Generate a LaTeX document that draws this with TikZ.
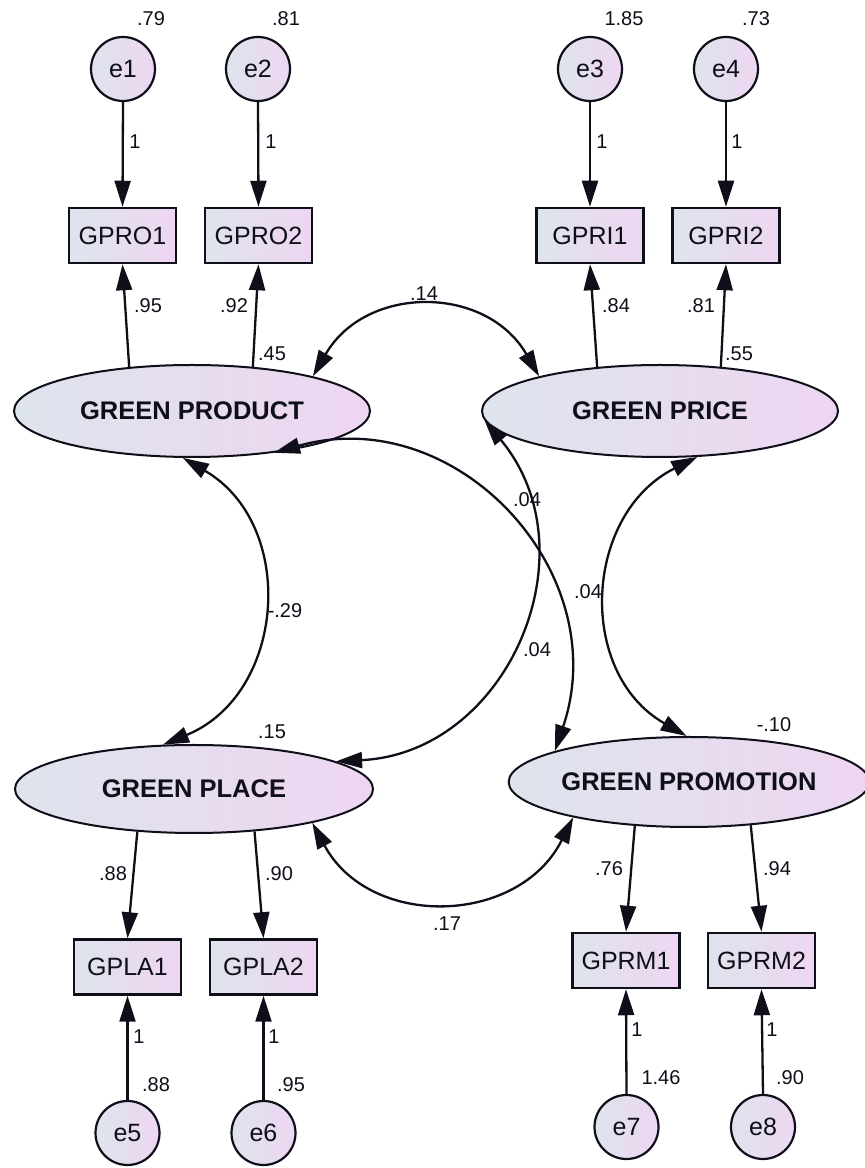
\documentclass[tikz,border=0pt]{standalone}
\usepackage{fontspec}
\setmainfont{Liberation Sans}
\usetikzlibrary{shapes.geometric,arrows.meta}
\definecolor{cL}{RGB}{222,228,236}
\definecolor{cR}{RGB}{238,214,242}
\definecolor{txt}{RGB}{15,15,25}
\begin{document}
\begin{tikzpicture}[x=1pt,y=1pt,
  lat/.style={ellipse, draw=txt, line width=2pt, left color=cL, right color=cR, minimum width=356pt, minimum height=92pt, inner sep=0pt, text=txt, font=\fontsize{25.5}{30}\selectfont\bfseries},
  obs/.style={rectangle, draw=txt, line width=2.5pt, left color=cL, right color=cR, minimum width=107pt, minimum height=55pt, inner sep=0pt, text=txt, font=\fontsize{25}{30}\selectfont},
  err/.style={circle, draw=txt, line width=2.2pt, left color=cL, right color=cR, minimum size=64pt, inner sep=0pt, text=txt, font=\fontsize{25}{30}\selectfont},
  lbl/.style={font=\fontsize{20}{24}\selectfont, inner sep=0pt, text=txt},
  arr/.style={draw=txt, line width=2.3pt, -{Triangle[length=26pt,width=16pt]}},
  cov/.style={draw=txt, line width=2.3pt, {Triangle[length=26pt,width=16pt]}-{Triangle[length=26pt,width=16pt]}},
]
\fill[white] (0,0) rectangle (865,1168);
\useasboundingbox (0,0) rectangle (865,1168);

% error terms (top)
\node[err] (e1) at (123,1099) {e1};
\node[err] (e2) at (258,1099) {e2};
\node[err] (e3) at (590,1099) {e3};
\node[err] (e4) at (726,1099) {e4};
% indicators (top)
\node[obs] (gpro1) at (122.5,932.5) {GPRO1};
\node[obs] (gpro2) at (258.5,932.5) {GPRO2};
\node[obs] (gpri1) at (590,932.5) {GPRI1};
\node[obs] (gpri2) at (726,932.5) {GPRI2};
% latent variables
\node[lat] (prod) at (192,757) {GREEN PRODUCT};
\node[lat] (price) at (660,757) {GREEN PRICE};
\node[lat, minimum width=358pt, minimum height=88pt] (place) at (194,379) {GREEN PLACE};
\node[lat, minimum width=352pt, minimum height=90pt] (promo) at (689,386) {GREEN PROMOTION};
% indicators (bottom)
\node[obs] (gpla1) at (127.5,201) {GPLA1};
\node[obs] (gpla2) at (263.5,201) {GPLA2};
\node[obs] (gprm1) at (626,207.5) {GPRM1};
\node[obs] (gprm2) at (761.5,207.5) {GPRM2};
% error terms (bottom)
\node[err] (e5) at (127.5,35) {e5};
\node[err] (e6) at (263.5,35) {e6};
\node[err] (e7) at (626.5,41) {e7};
\node[err] (e8) at (763,41) {e8};

% error arrows
\draw[arr] (e1.south) -- (gpro1.north);
\draw[arr] (e2.south) -- (gpro2.north);
\draw[arr] (e3.south) -- (gpri1.north);
\draw[arr] (e4.south) -- (gpri2.north);
\draw[arr] (e5.north) -- (gpla1.south);
\draw[arr] (e6.north) -- (gpla2.south);
\draw[arr] (e7.north) -- (gprm1.south);
\draw[arr] (e8.north) -- (gprm2.south);

% loadings
\draw[arr] (prod.145) -- (gpro1.south);
\draw[arr] (prod.36) -- (gpro2.south);
\draw[arr] (price.145) -- (gpri1.south);
\draw[arr] (price.36) -- (gpri2.south);
\draw[arr] (place.217) -- (gpla1.north);
\draw[arr] (place.325) -- (gpla2.north);
\draw[arr] (promo.219) -- (gprm1.north);
\draw[arr] (promo.325) -- (gprm2.north);

% covariances
\draw[cov] (prod.16) .. controls +(60:106pt) and +(120:106pt) .. (price.164);
\draw[cov] (prod.259) .. controls +(-30.2:133pt) and +(22.3:133pt) .. (place.125);
\draw[cov] (prod.333) .. controls +(15.8:189pt) and +(71.3:189pt) .. (promo.167.5);
\draw[cov] (price.183) .. controls +(-50.3:171.7pt) and +(2.8:171.7pt) .. (place.11);
\draw[cov] (price.309) .. controls +(206.7:127.3pt) and +(150.3:127.3pt) .. (promo.93);
\draw[cov] (place.344) .. controls +(-61.6:121.2pt) and +(243.3:121.2pt) .. (promo.197.5);

% labels
\node[lbl] (v1) at (151,1149) {.79};
\node[lbl] (v2) at (286,1149) {.81};
\node[lbl] (v3) at (624,1149) {1.85};
\node[lbl] (v4) at (756,1149) {.73};
\node[lbl] (f1) at (135,1026) {1};
\node[lbl] (f2) at (271,1026) {1};
\node[lbl] (f3) at (602,1026) {1};
\node[lbl] (f4) at (737,1026) {1};
\node[lbl] (l1) at (148,862) {.95};
\node[lbl] (l2) at (234,862) {.92};
\node[lbl] (r1) at (272,814) {.45};
\node[lbl] (l3) at (616,862) {.84};
\node[lbl] (l4) at (701,862) {.81};
\node[lbl] (r2) at (739,814) {.55};
\node[lbl] (c1) at (424,874) {.14};
\node[lbl] (c2) at (285,557) {-.29};
\node[lbl] (c3) at (527,668) {.04};
\node[lbl] (c4) at (588,576) {.04};
\node[lbl] (c5) at (537,518) {.04};
\node[lbl] (r3) at (272,436) {.15};
\node[lbl] (r4) at (774,443) {-.10};
\node[lbl] (l5) at (113,294) {.88};
\node[lbl] (l6) at (279,294) {.90};
\node[lbl] (l7) at (609,299) {.76};
\node[lbl] (l8) at (777,299) {.94};
\node[lbl] (c6) at (447,244) {.17};
\node[lbl] (f5) at (139,131) {1};
\node[lbl] (f6) at (274,131) {1};
\node[lbl] (v5) at (156,83) {.88};
\node[lbl] (v6) at (291,83) {.95};
\node[lbl] (f7) at (637,138) {1};
\node[lbl] (f8) at (772,138) {1};
\node[lbl] (v7) at (661,90) {1.46};
\node[lbl] (v8) at (790,90) {.90};
\end{tikzpicture}
\end{document}
